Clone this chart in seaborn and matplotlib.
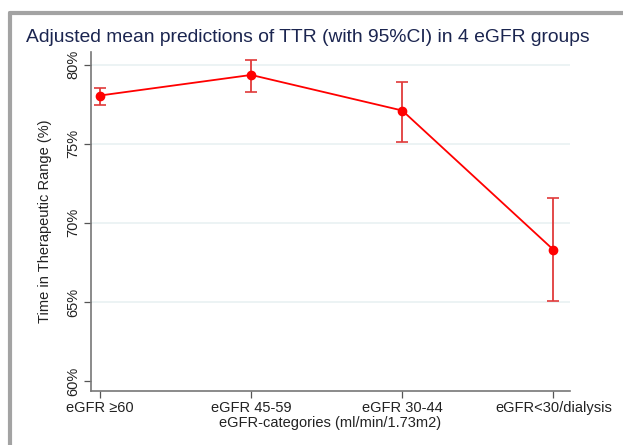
import pandas as pd
import seaborn as sb
import matplotlib.pyplot as plt
from matplotlib.lines import Line2D
import numpy as np

#%% data
groups = ['eGFR \u226560', 'eGFR 45-59', 'eGFR 30-44', 'eGFR<30/dialysis']
ttr_mean = [78.05, 79.35, 77.1, 68.3]
ci_low = [77.45, 78.3, 75.1, 65.05]
ci_high = [78.55, 80.3, 78.9, 71.55]

df = pd.DataFrame({'group': groups, 'ttr': ttr_mean})

#%% plot
sb.set_style('white')
plt.rcParams['font.family'] = ['Liberation Sans', 'DejaVu Sans']

fig = plt.figure(figsize=(6.23, 4.45), dpi=100)
ax = fig.add_axes([91/623, 1-391/445, (570-91)/623, (391-52)/445])

red = '#ff0000'
sb.pointplot(data=df, x='group', y='ttr', color=red, ax=ax,
             markers='o', linestyles='-', linewidth=1.3, markersize=6)

# predefined 95% CI
yerr = [np.array(ttr_mean) - np.array(ci_low), np.array(ci_high) - np.array(ttr_mean)]
ax.errorbar(range(len(groups)), ttr_mean, yerr=yerr, fmt='none',
            ecolor='#e03a3a', elinewidth=1.3, capsize=4, capthick=1.2, zorder=1)

ax.set_xlim(-0.06, 3.11)
ax.set_ylim(59.37, 80.8)
ax.set_yticks([60, 65, 70, 75, 80])
ax.set_yticklabels(['60%', '65%', '70%', '75%', '80%'], rotation=90, va='center')
for y in [65, 70, 75, 80]:
    ax.axhline(y, color='#e9f1f2', lw=1.2, zorder=0)

ax.tick_params(axis='both', which='both', direction='out', length=5, width=0.9,
               color='#555555', labelsize=10.5, labelcolor='#222222', pad=3,
               left=True, bottom=True)
ax.tick_params(axis='x', labelsize=10.5, pad=2)
for s in ['top', 'right']:
    ax.spines[s].set_visible(False)
for s in ['left', 'bottom']:
    ax.spines[s].set_color('#777777')
    ax.spines[s].set_linewidth(1.2)

ax.set_xlabel('eGFR-categories (ml/min/1.73m2)', fontsize=10.5, color='#222222', labelpad=1)
ax.set_ylabel('Time in Therapeutic Range (%)', fontsize=10.5, color='#222222', labelpad=10)

fig.text(26/623, 1-37/445, 'Adjusted mean predictions of TTR (with 95%CI) in 4 eGFR groups',
         fontsize=13.85, color='#1b2550', va='center', ha='left')

# gray frame on left and top
fig.add_artist(Line2D([10/623, 10/623], [0, 1-13/445], color='#a3a3a3', lw=3, transform=fig.transFigure))
fig.add_artist(Line2D([10/623, 1], [1-13/445, 1-13/445], color='#a3a3a3', lw=3, transform=fig.transFigure))

plt.savefig('out.png', dpi=100)
